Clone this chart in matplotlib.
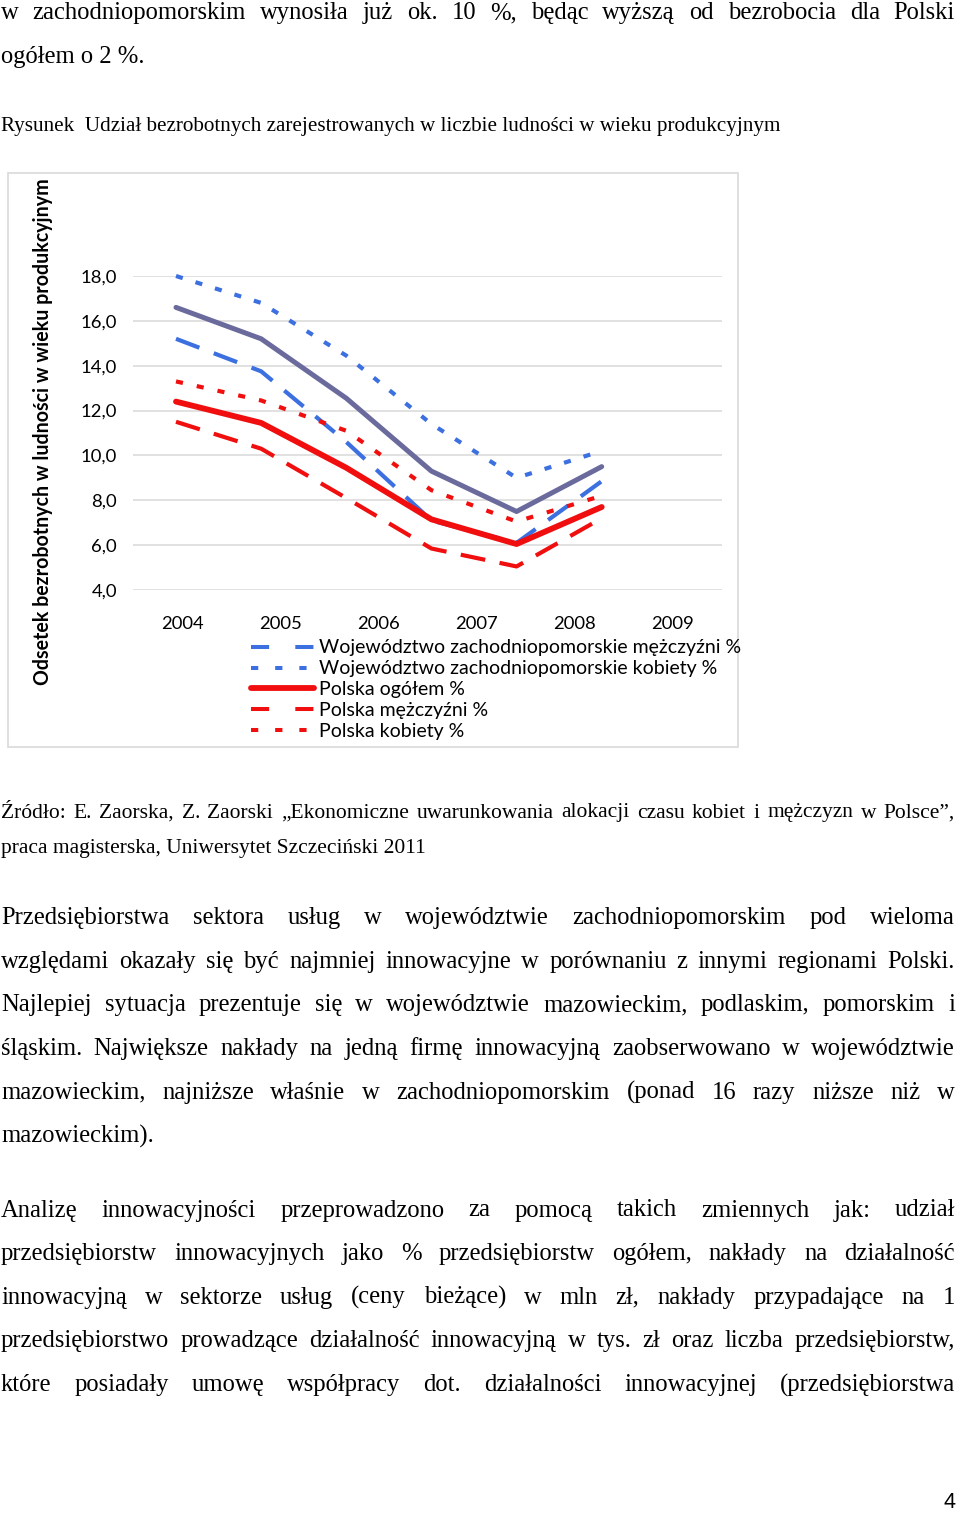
import matplotlib
matplotlib.use('Agg')
import matplotlib.pyplot as plt
from matplotlib.lines import Line2D
from matplotlib.patches import Rectangle

W, H, DPI = 960, 1519, 100

# ---- chart data ----
years = ['2004', '2005', '2006', '2007', '2008', '2009']
woj_ogolem = [16.6, 15.2, 12.55, 9.3, 7.5, 9.5]
woj_m = [15.2, 13.75, 10.6, 7.1, 6.1, 8.85]
woj_k = [18.0, 16.8, 14.45, 11.4, 9.0, 10.2]
pl_ogolem = [12.4, 11.45, 9.45, 7.15, 6.05, 7.7]
pl_m = [11.5, 10.3, 8.1, 5.85, 5.05, 7.2]
pl_k = [13.3, 12.45, 11.1, 8.45, 7.05, 8.2]
y_ticks = [4, 6, 8, 10, 12, 14, 16, 18]
legend_labels = ['Województwo zachodniopomorskie mężczyźni %',
                 'Województwo zachodniopomorskie kobiety %',
                 'Polska ogółem %', 'Polska mężczyźni %', 'Polska kobiety %']

# ---- page text ----
top_lines = ['w zachodniopomorskim wynosiła już ok. 10 %, będąc wyższą od bezrobocia dla Polski',
             'ogółem o 2 %.']
caption = 'Rysunek  Udział bezrobotnych zarejestrowanych w liczbie ludności w wieku produkcyjnym'
source_lines = ['Źródło: E. Zaorska, Z. Zaorski „Ekonomiczne uwarunkowania alokacji czasu kobiet i mężczyzn w Polsce”,',
                'praca magisterska, Uniwersytet Szczeciński 2011']
para1 = ['Przedsiębiorstwa sektora usług w województwie zachodniopomorskim pod wieloma',
         'względami okazały się być najmniej innowacyjne w porównaniu z innymi regionami Polski.',
         'Najlepiej sytuacja prezentuje się w województwie mazowieckim, podlaskim, pomorskim i',
         'śląskim. Największe nakłady na jedną firmę innowacyjną zaobserwowano w województwie',
         'mazowieckim, najniższe właśnie w zachodniopomorskim (ponad 16 razy niższe niż w',
         'mazowieckim).']
para2 = ['Analizę innowacyjności przeprowadzono za pomocą takich zmiennych jak: udział',
         'przedsiębiorstw innowacyjnych jako % przedsiębiorstw ogółem,  nakłady na działalność',
         'innowacyjną w sektorze usług (ceny bieżące) w mln zł, nakłady przypadające na 1',
         'przedsiębiorstwo prowadzące działalność innowacyjną w tys. zł oraz liczba przedsiębiorstw,',
         'które posiadały umowę współpracy dot. działalności innowacyjnej (przedsiębiorstwa']

fig = plt.figure(figsize=(W / DPI, H / DPI), dpi=DPI)
page = fig.add_axes([0, 0, 1, 1])
page.set_xlim(0, W)
page.set_ylim(H, 0)
page.axis('off')
renderer = fig.canvas.get_renderer()

SERIF = 'Liberation Serif'
SANS = 'Lato'


def text_line(s, y, size, justify=True, x0=1, x1=955):
    # justified line: words spread between x0 and x1
    words = s.split()
    if not justify or len(words) < 2:
        page.text(x0, y, s, fontsize=size, family=SERIF, va='baseline', ha='left')
        return
    objs = [page.text(0, y, w, fontsize=size, family=SERIF, va='baseline', ha='left') for w in words]
    widths = [o.get_window_extent(renderer).width for o in objs]
    gap = (x1 - x0 - sum(widths)) / (len(words) - 1)
    x = x0
    for o, w in zip(objs, widths):
        o.set_x(x)
        x += w + gap


BODY = 17.7
LS = 43.65
for i, s in enumerate(top_lines):
    text_line(s, 19 + i * LS, BODY, justify=(i < len(top_lines) - 1))
text_line(caption, 131, 15.2, justify=False)
for i, s in enumerate(source_lines):
    text_line(s, 817.5 + i * 36, 15.5, justify=(i == 0))
for i, s in enumerate(para1):
    text_line(s, 924 + i * LS, BODY, justify=(i < len(para1) - 1))
for i, s in enumerate(para2):
    text_line(s, 1216.5 + i * LS, BODY, justify=True)
page.text(955, 1508, '4', fontsize=15.5, family='Liberation Sans', ha='right', va='baseline')

# chart frame
page.add_patch(Rectangle((8, 173), 730, 574, fill=False, edgecolor='#D9D9D9', lw=1.2))

# ---- chart ----
L, R, T, B = 133, 722, 276, 590
ax = fig.add_axes([L / W, 1 - B / H, (R - L) / W, (B - T) / H])
ax.patch.set_alpha(0)
x0_px, step_px = 176, 85.14
xlo, xhi = (L - x0_px) / step_px, (R - x0_px) / step_px
ax.set_xlim(xlo, xhi)
ax.set_ylim(4, 18)
for sp in ax.spines.values():
    sp.set_visible(False)
ax.set_yticks(y_ticks)
ax.set_yticklabels([f'{v:.1f}'.replace('.', ',') for v in y_ticks])
ax.set_xticks([xlo + (i + 0.5) / 6 * (xhi - xlo) for i in range(6)])
ax.set_xticklabels(years)
ax.tick_params(length=0, labelsize=13.3, labelfontfamily=SANS)
ax.tick_params(axis='y', pad=11.5)
ax.tick_params(axis='x', pad=18.6)
ax.yaxis.grid(True, color='#D9D9D9', lw=1.1)
ax.set_axisbelow(True)

BLUE = '#3C6FE0'
RED = '#F00E0E'
PURPLE = '#6A6A9C'
xs = list(range(len(years)))
kw = dict(clip_on=False, dash_capstyle='butt', solid_capstyle='round', solid_joinstyle='round')
ax.plot(xs, woj_k, color=BLUE, lw=3.0, ls=(0, (1.7, 3.2)), **kw)
ax.plot(xs, woj_m, color=BLUE, lw=3.0, ls=(0, (6, 3.7)), **kw)
ax.plot(xs, pl_k, color=RED, lw=3.0, ls=(0, (1.7, 3.4)), **kw)
ax.plot(xs, pl_m, color=RED, lw=3.0, ls=(0, (6, 3.5)), **kw)
ax.plot(xs, woj_ogolem, color=PURPLE, lw=3.6, **kw)
ax.plot(xs, pl_ogolem, color=RED, lw=4.2, **kw)

handles = [Line2D([], [], color=BLUE, lw=2.9, ls=(0, (4.5, 6.5)), dash_capstyle='butt'),
           Line2D([], [], color=BLUE, lw=2.9, ls=(0, (1.8, 4.2)), dash_capstyle='butt'),
           Line2D([], [], color=RED, lw=4.2, solid_capstyle='round'),
           Line2D([], [], color=RED, lw=2.9, ls=(0, (4.5, 6.5)), dash_capstyle='butt'),
           Line2D([], [], color=RED, lw=2.9, ls=(0, (1.8, 4.2)), dash_capstyle='butt')]
ax.legend(handles, legend_labels, loc='upper left', bbox_to_anchor=(251, 639.5),
          bbox_transform=page.transData, frameon=False, borderpad=0, borderaxespad=0,
          handlelength=3.25, handletextpad=0.26, labelspacing=0.2,
          prop={'family': SANS, 'size': 14})

page.text(43, 432, 'Odsetek bezrobotnych w ludności w wieku produkcyjnym', rotation=90,
          fontsize=14.1, fontweight='bold', family=SANS, ha='center', va='center')

fig.savefig('out.png', dpi=DPI)
